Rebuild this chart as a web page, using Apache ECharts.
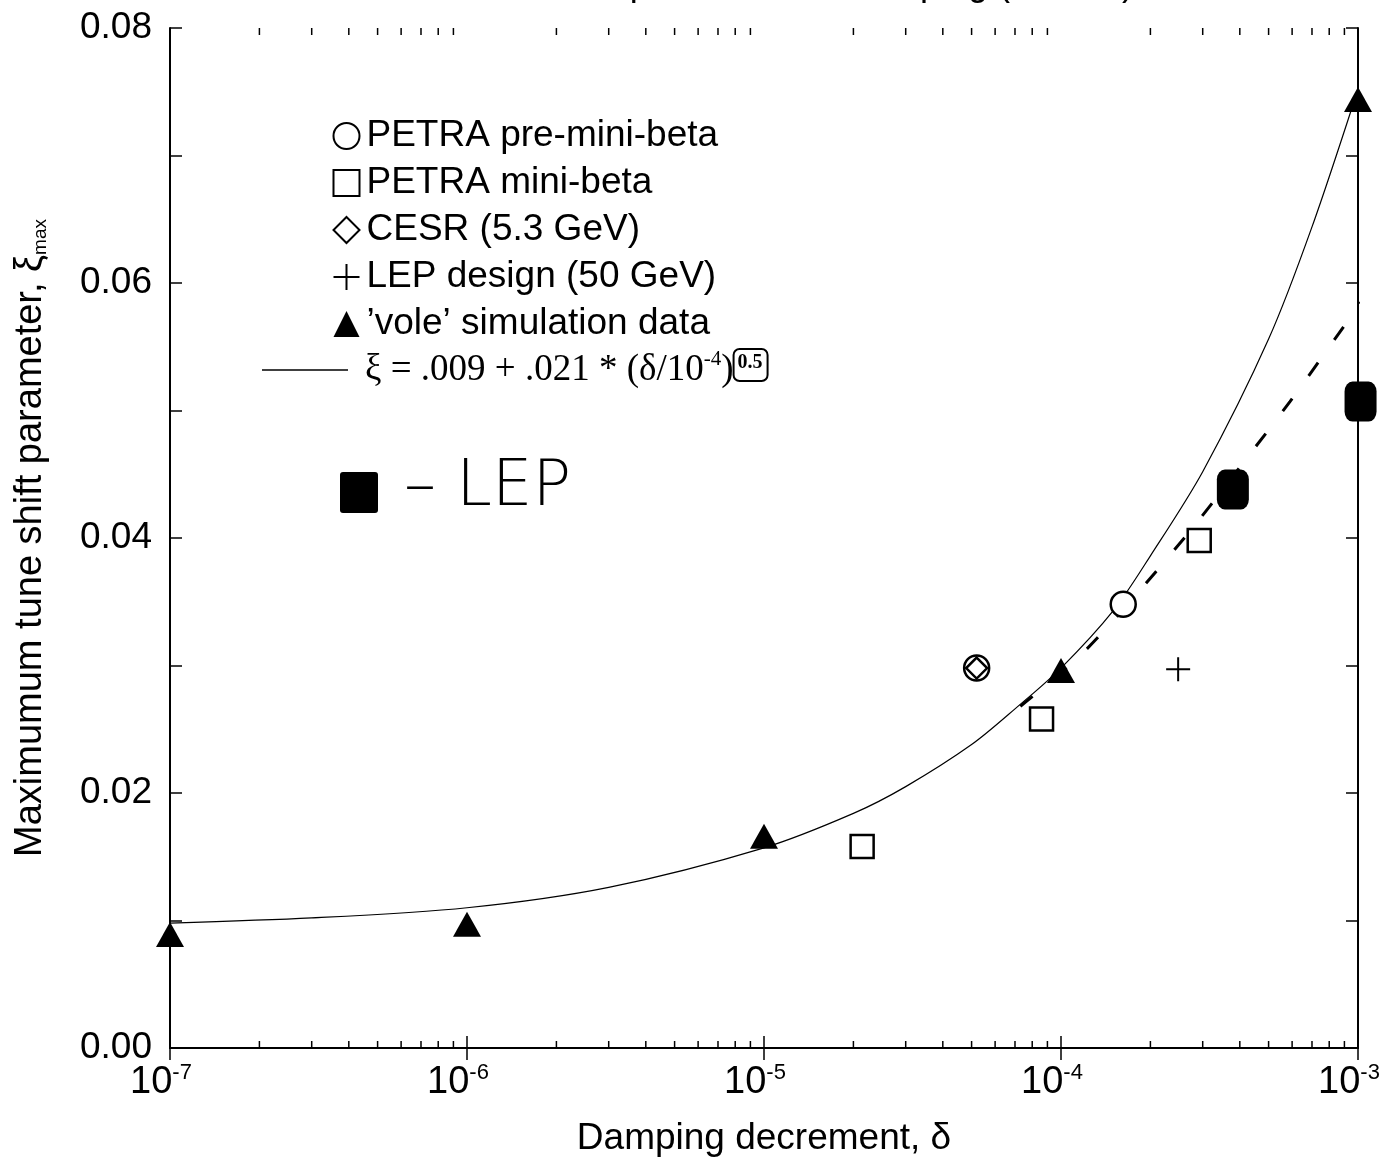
<!DOCTYPE html>
<html>
<head>
<meta charset="utf-8">
<script src="https://cdn.jsdelivr.net/npm/echarts@6/dist/echarts.min.js"></script>
<style>
  html, body { margin: 0; background: #fff; }
  #main { width: 1395px; height: 1159px; }
</style>
</head>
<body>
<div id="main"></div>
<script>
// data
const xExp = ["-7", "-6", "-5", "-4", "-3"];
const yLabels = ["0.00", "", "0.02", "", "0.04", "", "0.06", "", "0.08"];
const minorTicks = [
  2e-7, 3e-7, 4e-7, 5e-7, 6e-7, 7e-7, 8e-7, 9e-7,
  2e-6, 3e-6, 4e-6, 5e-6, 6e-6, 7e-6, 8e-6, 9e-6,
  2e-5, 3e-5, 4e-5, 5e-5, 6e-5, 7e-5, 8e-5, 9e-5,
  2e-4, 3e-4, 4e-4, 5e-4, 6e-4, 7e-4, 8e-4, 9e-4,
];

const petraPre = [[1.62e-4, 0.0348], [5.2e-5, 0.0298]];
const petraMini = [[2.14e-5, 0.0158], [8.6e-5, 0.0258], [2.92e-4, 0.0398]];
const cesr = [[5.2e-5, 0.0298]];
const lepDesign = [[2.48e-4, 0.0297]];
const vole = [[1e-7, 0.0089], [1e-6, 0.0097], [1e-5, 0.0166], [1e-4, 0.0296], [1e-3, 0.0744]];

const fitDelta = [1e-7, 3e-7, 1e-6, 3e-6, 1e-5, 2e-5, 3e-5, 5e-5, 7e-5, 1e-4, 1.5e-4, 2e-4, 3e-4, 5e-4, 7e-4, 1e-3];
const fitXi = [0.0098, 0.0102, 0.0110, 0.0126, 0.0157, 0.0184, 0.0205, 0.0238, 0.0266, 0.0298, 0.0343, 0.0386, 0.0452, 0.0556, 0.0644, 0.0752];

// hand-drawn additions on the print
const lepHand = [[3.79e-4, 0.0438], [1.02e-3, 0.0507]];
const handDash = [[7.3e-5, 0.0268], [1.21e-4, 0.0312], [2.58e-4, 0.0399], [4.5e-4, 0.0471], [5.9e-4, 0.0507], [8.3e-4, 0.0555], [1.1e-3, 0.0595]];

const FONT = '"Liberation Sans", Arial, sans-serif';
const SERIF = '"Liberation Serif", "Times New Roman", serif';

let chart = echarts.init(document.getElementById("main"), null, { renderer: "canvas" });

const openStyle = { color: "#fff", borderColor: "#000", borderWidth: 2.5, opacity: 1 };

let option = {
  animation: false,
  backgroundColor: "#fff",
  grid: { left: 170, right: 37, top: 28, bottom: 111, containLabel: false, outerBoundsMode: "none" },

  legend: [
    {
      orient: "vertical",
      left: 326,
      top: 112,
      itemWidth: 26,
      itemHeight: 26,
      itemGap: 9,
      selectedMode: false,
      data: ["PETRA pre-mini-beta", "PETRA mini-beta", "CESR (5.3 GeV)", "LEP design (50 GeV)", "'vole' simulation data"],
      formatter: (n) => n.replace("'vole'", "\u2019vole\u2019"),
      textStyle: { fontFamily: FONT, fontSize: 37, lineHeight: 38, color: "#000", padding: [0, 0, 0, 2] },
    },
    {
      orient: "vertical",
      left: 257,
      top: 343,
      itemWidth: 86,
      itemHeight: 1.5,
      selectedMode: false,
      data: [{ name: "fit", icon: "rect" }],
      itemStyle: { color: "#000" },
      formatter: () => "{t|\u03be = .009 + .021 * (\u03b4/10}{s|-4}{t|)}{box|0.5}",
      textStyle: {
        color: "#000",
        padding: [0, 0, 0, 12],
        rich: {
          t: { fontFamily: SERIF, fontSize: 37, lineHeight: 42, color: "#000" },
          s: { fontFamily: SERIF, fontSize: 21, lineHeight: 21, verticalAlign: "top", color: "#000" },
          box: {
            fontFamily: SERIF, fontSize: 20, fontWeight: "bold", color: "#000",
            verticalAlign: "top", borderColor: "#000", borderWidth: 2, borderRadius: 6,
            padding: [4, 5, 8, 4],
          },
        },
      },
    },
  ],

  xAxis: [
    {
      type: "log",
      logBase: 10,
      min: 1e-7,
      max: 1e-3,
      name: "Damping decrement, \u03b4",
      nameLocation: "middle",
      nameGap: 72,
      nameTextStyle: { fontFamily: FONT, fontSize: 37, color: "#000" },
      axisLine: { lineStyle: { color: "#000", width: 2 } },
      axisTick: { inside: true, length: 12, lineStyle: { color: "#000", width: 1.5 } },
      splitLine: { show: false },
      axisLabel: {
        margin: 14,
        padding: [0, 18, 0, 0],
        formatter: (v, i) => "{b|10}{s|" + xExp[i] + "}",
        rich: {
          b: { fontFamily: FONT, fontSize: 38, lineHeight: 42, color: "#000" },
          s: { fontFamily: FONT, fontSize: 22, lineHeight: 22, verticalAlign: "top", color: "#000" },
        },
      },
    },
    {
      type: "log",
      logBase: 10,
      min: 1e-7,
      max: 1e-3,
      position: "top",
      axisLine: { lineStyle: { color: "#000", width: 2 } },
      axisTick: { inside: true, length: 12, lineStyle: { color: "#000", width: 1.5 } },
      axisLabel: { show: false },
      splitLine: { show: false },
    },
  ],

  yAxis: [
    {
      type: "value",
      min: 0,
      max: 0.08,
      interval: 0.01,
      name: "Maximumum tune shift parameter, {t|\u03be}{sub|max}",
      nameLocation: "middle",
      nameGap: 120,
      nameTextStyle: {
        fontFamily: FONT, fontSize: 38, color: "#000",
        rich: {
          t: { fontFamily: FONT, fontSize: 38, color: "#000" },
          sub: { fontFamily: FONT, fontSize: 19, verticalAlign: "bottom", color: "#000" },
        },
      },
      axisLine: { lineStyle: { color: "#000", width: 2 } },
      axisTick: { inside: true, length: 12, lineStyle: { color: "#000", width: 1.5 } },
      splitLine: { show: false },
      axisLabel: {
        margin: 18,
        fontFamily: FONT,
        fontSize: 37,
        color: "#000",
        formatter: (v, i) => yLabels[i],
      },
    },
    {
      type: "value",
      min: 0,
      max: 0.08,
      interval: 0.01,
      position: "right",
      axisLine: { show: true, lineStyle: { color: "#000", width: 2 } },
      axisTick: { inside: true, length: 12, lineStyle: { color: "#000", width: 1.5 } },
      axisLabel: { show: false },
      splitLine: { show: false },
    },
  ],

  graphic: [
    {
      type: "text",
      right: 1395 - 1134,
      top: -33,
      style: { text: "Maximum tune shift parameter vs damping (Feb 96)", font: "36px " + FONT, fill: "#000" },
    },
    { type: "rect", left: 340, top: 472, shape: { width: 38, height: 41, r: 3 }, style: { fill: "#000" } },
    {
      type: "text",
      left: 404,
      top: 456,
      style: { text: "\u2013 LEP", font: "300 64px \"DejaVu Sans\"", fill: "#000" },
    },
  ],

  series: [
    {
      name: "fit",
      type: "line",
      data: fitDelta.map((d, i) => [d, fitXi[i]]),
      smooth: 0.3,
      symbol: "none",
      itemStyle: { color: "#000" },
      lineStyle: { color: "#000", width: 1.2 },
      z: 1,
    },
    {
      name: "hand dash",
      type: "line",
      data: handDash,
      smooth: 0.3,
      symbol: "none",
      clip: false,
      lineStyle: { color: "#000", width: 3, type: [16, 28] },
      z: 1,
    },
    {
      name: "PETRA pre-mini-beta",
      type: "scatter",
      data: petraPre,
      symbol: "circle",
      symbolSize: 25,
      itemStyle: openStyle,
      z: 3,
    },
    {
      name: "PETRA mini-beta",
      type: "scatter",
      data: petraMini,
      symbol: "rect",
      symbolSize: 23,
      itemStyle: openStyle,
      z: 3,
    },
    {
      name: "CESR (5.3 GeV)",
      type: "scatter",
      data: cesr,
      symbol: "diamond",
      symbolSize: [21, 21],
      itemStyle: openStyle,
      z: 4,
    },
    {
      name: "LEP design (50 GeV)",
      type: "scatter",
      data: lepDesign,
      symbol: "path://M0,10L20,10M10,0L10,20",
      symbolSize: 24,
      itemStyle: { color: "none", borderColor: "#000", borderWidth: 2, opacity: 1 },
      z: 3,
    },
    {
      name: "'vole' simulation data",
      type: "scatter",
      data: vole,
      symbol: "triangle",
      symbolSize: [28, 25],
      itemStyle: { color: "#000", opacity: 1 },
      clip: false,
      z: 3,
    },
    {
      name: "LEP (hand)",
      type: "scatter",
      data: lepHand,
      symbol: "roundRect",
      symbolSize: [32, 40],
      itemStyle: { color: "#000", opacity: 1 },
      clip: false,
      z: 3,
    },
    {
      name: "minor ticks",
      type: "custom",
      data: minorTicks,
      silent: true,
      clip: false,
      renderItem: (params, api) => {
        const v = api.value(0);
        const b = api.coord([v, 0]);
        const t = api.coord([v, 0.08]);
        const st = { stroke: "#000", lineWidth: 1.5 };
        return {
          type: "group",
          children: [
            { type: "line", shape: { x1: b[0], y1: b[1], x2: b[0], y2: b[1] - 7 }, style: st },
            { type: "line", shape: { x1: t[0], y1: t[1], x2: t[0], y2: t[1] + 7 }, style: st },
          ],
        };
      },
      encode: { x: 0 },
      z: 2,
    },
  ],
};

chart.setOption(option);
</script>
</body>
</html>
